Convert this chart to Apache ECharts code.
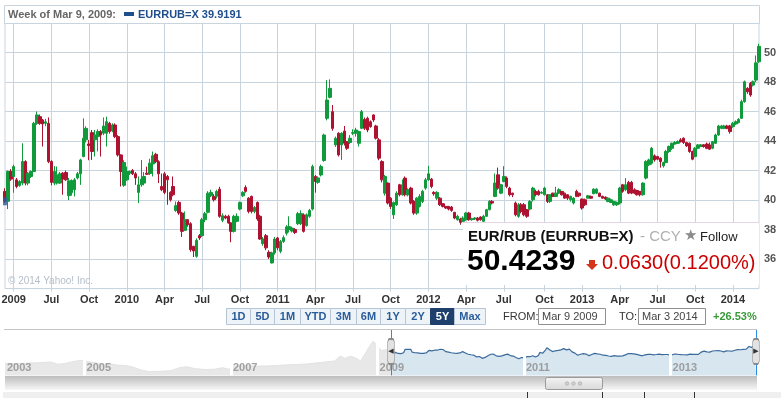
<!DOCTYPE html>
<html>
<head>
<meta charset="utf-8">
<title>EUR/RUB weekly</title>
<script src="https://cdn.jsdelivr.net/npm/echarts@6/dist/echarts.min.js"></script>
<style>
  html, body { margin: 0; padding: 0; background: #fff; }
  #chart { width: 781px; height: 398px; }
</style>
</head>
<body>
<div id="chart"></div>
<script>
// weekly candles from the week of Mar 9 2009 to Mar 3 2014: [open, close, low, high]
var ohlc = [
  [40.58,39.92,39.80,40.80],[39.92,41.94,39.39,42.00],[41.94,41.42,41.30,42.10],[41.60,42.27,40.50,42.40],[41.37,40.92,40.80,41.50],[40.99,41.26,40.90,41.35],
  [41.15,42.61,41.00,43.85],[42.61,41.15,41.00,42.70],[41.15,41.82,41.00,41.90],[41.60,41.94,41.50,42.00],[41.94,45.20,41.90,45.30],[45.20,45.77,45.10,46.00],
  [45.65,45.20,45.10,45.80],[45.43,45.16,43.63,45.50],[45.20,45.30,45.00,45.50],[45.20,42.61,42.50,45.60],[42.61,41.20,41.00,42.70],[41.15,41.94,41.00,42.30],
  [41.15,41.70,41.05,42.27],[41.15,41.78,41.10,41.90],[41.82,41.42,40.36,41.90],[41.87,41.37,41.30,42.00],[40.30,41.30,40.00,41.50],[40.50,41.33,40.30,41.40],
  [40.70,41.37,40.25,41.50],[41.50,41.78,41.40,41.90],[41.78,42.72,41.03,42.80],[42.95,44.19,42.90,45.54],[44.08,44.86,43.90,45.00],[43.80,43.70,42.70,44.08],
  [44.57,43.29,42.72,44.75],[44.08,44.41,42.95,44.75],[44.30,44.64,43.30,44.80],[44.64,44.41,42.95,44.75],[44.53,45.02,44.40,45.60],[44.53,45.31,43.63,45.65],
  [45.20,44.64,44.50,45.30],[44.68,45.09,44.60,45.20],[45.09,44.30,44.20,45.20],[44.30,43.06,42.95,44.40],[43.06,41.94,40.92,43.10],[41.00,42.54,40.90,42.70],
  [41.37,41.94,41.30,42.27],[41.82,41.94,41.70,42.00],[42.00,41.78,41.70,42.10],[41.78,41.50,41.03,41.90],[40.52,41.03,39.80,41.60],[41.03,41.42,40.90,42.72],
  [41.15,41.60,41.00,41.90],[41.82,41.75,41.70,42.27],[41.80,42.50,41.70,42.80],[42.45,43.00,41.60,43.29],[43.10,42.60,42.50,43.20],[42.60,41.78,41.15,42.70],
  [40.92,40.70,40.60,41.80],[41.78,40.52,40.40,41.90],[41.60,41.37,39.68,41.70],[40.52,40.02,39.90,40.60],[40.92,40.36,40.25,41.60],[39.30,39.62,39.20,39.90],
  [39.84,39.12,39.00,39.95],[39.12,37.88,37.50,39.20],[37.95,38.67,37.90,39.23],[38.67,38.33,38.20,38.70],[38.40,36.64,36.50,38.50],[36.87,36.55,36.14,36.90],
  [36.19,37.27,36.10,37.40],[37.59,37.43,37.30,37.70],[37.59,38.67,37.50,38.80],[38.67,39.08,38.50,39.20],[39.17,40.47,39.10,40.60],[40.29,40.52,40.20,40.70],
  [40.25,40.02,39.90,40.40],[40.25,40.59,40.10,40.70],[40.74,38.90,38.80,40.90],[38.63,38.94,38.50,39.10],[38.90,38.78,38.70,39.00],[38.90,38.45,38.40,39.00],
  [38.45,37.88,37.14,38.50],[37.88,38.90,37.80,39.00],[38.56,38.90,38.50,39.10],[39.39,39.84,39.30,39.90],[40.29,40.52,40.20,40.60],[40.86,40.59,40.50,41.00],
  [40.13,39.23,39.10,40.20],[40.25,39.23,39.10,40.30],[39.23,39.50,39.10,39.60],[39.84,38.72,38.60,39.90],[38.90,37.36,37.30,39.00],[37.05,37.36,36.90,37.50],
  [37.59,36.76,36.60,37.70],[36.46,36.14,36.00,36.60],[35.74,36.42,35.70,36.50],[36.42,37.36,36.30,37.50],[37.43,36.76,36.60,37.50],[36.53,37.20,36.40,37.30],
  [37.20,37.45,37.10,37.60],[37.75,38.18,37.60,38.30],[38.00,38.20,37.80,38.90],[37.90,38.10,37.80,38.20],[38.00,37.80,37.70,38.10],[38.40,39.08,38.30,39.20],
  [38.40,39.08,38.30,39.30],[39.00,37.88,37.80,39.10],[38.27,39.00,38.20,39.10],[38.90,39.30,38.80,39.40],[39.39,42.27,39.30,42.40],[41.60,41.26,40.50,41.70],
  [41.20,41.50,41.10,41.60],[41.70,42.27,41.60,42.40],[42.68,44.41,42.60,44.50],[45.54,46.78,45.40,48.13],[46.96,47.57,46.90,48.18],[45.99,44.86,44.70,46.44],
  [43.74,44.19,43.60,44.30],[44.53,43.06,42.95,44.60],[43.74,44.53,42.72,44.60],[44.68,43.85,43.70,45.02],[43.96,43.51,43.40,44.00],[43.90,44.19,43.80,44.40],
  [44.53,44.57,44.40,44.80],[44.53,44.75,44.30,44.90],[43.85,44.64,43.63,44.70],[44.86,45.99,44.80,46.10],[45.47,44.86,44.75,45.60],[45.54,44.75,44.60,45.65],
  [45.31,44.98,44.90,45.40],[45.77,45.43,45.30,45.80],[45.02,44.19,44.10,45.10],[44.08,42.84,42.70,44.20],[42.61,41.37,41.20,42.70],[40.47,41.60,40.30,41.70],
  [41.15,39.80,39.70,41.20],[40.13,39.57,39.40,40.20],[39.00,39.84,38.72,39.90],[39.68,40.47,39.60,40.60],[41.04,40.36,40.25,41.10],[40.36,41.04,40.30,41.40],
  [41.49,40.36,40.25,41.60],[40.36,40.70,40.25,40.80],[40.81,39.80,39.70,40.90],[39.91,39.12,39.00,40.00],[39.12,40.13,39.00,40.20],[39.57,40.25,39.50,40.40],
  [39.91,40.59,39.80,40.70],[40.81,41.37,40.70,41.50],[41.37,41.78,41.30,42.32],[41.42,40.92,40.80,41.50],[40.52,40.43,40.30,40.60],[40.13,40.52,40.00,40.60],
  [40.13,39.68,39.60,40.20],[39.75,39.57,39.50,39.80],[39.57,39.46,39.40,39.60],[39.57,39.39,39.30,39.60],[39.53,39.30,39.20,39.60],[39.17,38.78,38.70,39.20],
  [38.67,38.90,38.60,39.00],[38.72,38.49,38.33,38.80],[38.56,38.78,38.50,38.90],[38.67,39.12,38.60,39.20],[39.12,38.67,38.60,39.20],[38.67,38.74,38.60,38.80],
  [38.72,38.78,38.65,38.85],[38.78,38.63,38.55,38.85],[38.85,38.67,38.60,38.90],[38.56,38.90,38.50,39.00],[38.90,39.35,38.85,39.40],[39.35,39.91,39.30,40.00],
  [39.91,39.80,39.70,40.00],[40.25,41.15,40.20,41.80],[41.71,40.81,40.70,42.20],[40.47,41.04,40.40,41.10],[41.26,41.60,41.20,42.30],[41.49,40.92,40.80,41.60],
  [40.81,40.36,40.25,40.90],[40.47,40.36,40.20,40.50],[39.80,39.00,38.90,39.90],[38.90,39.68,38.80,39.80],[39.68,39.23,39.10,39.80],[39.68,39.00,38.90,39.80],
  [39.35,38.90,38.80,39.40],[39.39,39.91,39.30,40.00],[40.02,40.81,39.90,40.90],[40.59,40.36,40.25,40.70],[40.59,40.36,40.30,40.70],[40.47,40.52,40.40,40.60],
  [40.36,40.81,40.30,40.90],[40.36,39.91,39.80,40.40],[39.91,40.36,39.80,40.40],[40.47,40.25,40.20,40.50],[40.25,40.47,40.20,40.90],[40.47,40.70,40.40,40.80],
  [40.59,40.36,40.30,40.60],[40.47,40.13,40.10,40.50],[40.36,40.13,40.00,40.40],[40.02,40.25,39.90,40.30],[39.80,40.13,39.70,40.20],[40.59,40.25,40.20,40.70],
  [40.47,40.29,40.20,40.50],[40.07,39.46,39.35,40.10],[40.02,39.68,39.60,40.10],[40.13,40.29,40.10,40.35],[40.25,40.13,40.10,40.30],[40.43,40.74,40.40,40.80],
  [40.47,40.74,40.40,40.80],[40.47,40.25,40.20,40.50],[40.25,40.13,40.10,40.30],[40.20,40.07,40.00,40.25],[39.91,40.13,39.85,40.20],[39.84,40.02,39.80,40.10],
  [39.68,39.91,39.60,39.95],[39.68,39.84,39.60,39.90],[39.80,40.81,39.70,40.90],[41.04,40.59,40.50,41.10],[40.70,41.04,40.60,41.49],[41.20,40.47,40.40,41.30],
  [41.20,40.47,40.40,41.30],[40.70,40.47,40.40,40.80],[40.65,40.36,40.30,40.70],[40.59,40.36,40.25,40.60],[40.36,41.15,40.30,41.20],[41.49,42.61,41.40,42.70],
  [42.39,42.72,42.30,42.80],[42.50,43.51,42.40,43.60],[43.00,42.72,42.60,43.10],[42.95,42.77,42.70,43.00],[42.84,42.61,42.20,42.90],[42.32,42.54,42.20,42.60],
  [42.54,43.29,42.50,43.40],[43.29,43.63,43.20,43.70],[43.51,43.85,43.40,43.90],[43.80,43.90,43.75,44.00],[43.85,43.96,43.80,44.05],[44.08,43.96,43.90,44.20],
  [44.19,43.90,43.80,44.25],[43.90,43.67,43.60,43.95],[43.85,43.29,43.20,43.90],[43.29,42.77,42.70,43.35],[42.95,43.51,42.90,43.60],[43.51,43.74,43.45,43.80],
  [43.63,43.74,43.60,43.80],[43.74,43.63,43.55,43.80],[43.80,43.51,43.45,43.90],[43.74,43.45,43.40,43.90],[43.51,43.96,43.45,44.00],[43.85,44.41,43.80,44.50],
  [44.41,45.02,44.35,45.10],[44.86,45.02,44.80,45.10],[44.86,45.02,44.80,45.10],[45.02,44.86,44.80,45.10],[45.02,44.64,44.50,45.10],[44.98,45.20,44.90,45.30],
  [45.16,45.31,45.10,45.40],[45.25,45.47,45.20,45.55],[45.54,46.67,45.50,46.80],[46.67,48.02,46.60,48.10],[47.57,47.34,47.20,47.65],[47.90,47.12,47.00,48.00],
  [47.79,48.02,47.70,48.10],[48.13,49.30,48.00,49.80],[49.37,50.42,49.30,50.60]
];
var firstWeek = '2009-03-09';
var firstClose = 39.9191;

// one label per quarter, starting with the week of Apr 1 2009
var tickLabels = ['2009', 'Jul', 'Oct', '2010', 'Apr', 'Jul', 'Oct', '2011', 'Apr', 'Jul', 'Oct',
  '2012', 'Apr', 'Jul', 'Oct', '2013', 'Apr', 'Jul', 'Oct', '2014'];

// navigator history before the selected range (own scale of the navigator)
var navHistDates = ['2003-12-01', '2004-02-01', '2004-04-01', '2004-05-15', '2004-07-15', '2004-08-20', '2004-09-25',
  '2004-11-05', '2004-12-15', '2005-01-15', '2005-02-20', '2005-04-05', '2005-05-10', '2005-06-12', '2005-07-25',
  '2005-09-01', '2005-10-05', '2005-11-15', '2006-01-15', '2006-03-05', '2006-04-20', '2006-05-25', '2006-07-05',
  '2006-08-25', '2006-10-15', '2006-11-20', '2006-12-20', '2007-01-20', '2007-03-15', '2007-05-01', '2007-06-20',
  '2007-08-10', '2007-09-25', '2007-11-15', '2008-01-08', '2008-02-25', '2008-04-15', '2008-06-01', '2008-06-28',
  '2008-07-22', '2008-08-18', '2008-09-12', '2008-10-08', '2008-10-28', '2008-11-18', '2008-12-10', '2008-12-24',
  '2009-01-20', '2009-02-15', '2009-03-09'];
var navHistValues = [31.7, 31.5, 32.0, 32.3, 33.0, 30.8, 31.5,
  33.5, 34.6, 33.5, 32.5, 30.8, 31.2, 30.0, 29.6,
  28.0, 25.5, 23.8, 24.0, 24.5, 27.5, 28.4, 26.5,
  25.7, 26.0, 27.5, 26.0, 29.0, 29.6, 29.0, 29.1,
  29.5, 30.1, 30.5, 31.0, 32.0, 33.0, 34.0, 38.8,
  36.5, 38.5, 37.0, 34.0, 40.0, 47.0, 53.3, 50.0,
  44.1, 45.0, 40.0];
var navYearDates = ['2003-12-01', '2005-01-01', '2007-01-01', '2009-01-01', '2011-01-01', '2013-01-01'];
var navYearLabels = ['2003', '2005', '2007', '2009', '2011', '2013'];
var navBreaks = ['2005-01-01', '2007-01-01', '2009-01-01', '2011-01-01', '2013-01-01'];
var rangeStart = '2009-03-09';
var rangeEnd = '2014-03-03';

var rangeButtons = ['1D', '5D', '1M', 'YTD', '3M', '6M', '1Y', '2Y', '5Y', 'Max'];
var buttonEdges = [226, 250, 274, 300, 330, 356, 380, 405, 430, 454, 485];
var activeButton = 8;

var FONT = '"Liberation Sans", Arial, sans-serif';
var GRID = '#c9d5de';

var t0 = Date.parse(firstWeek + 'T00:00:00Z');
var weeks = ohlc.map(function (r, i) { return new Date(t0 + i * 7 * 864e5); });
var categories = weeks.map(function (d) { return d.toISOString().slice(0, 10); });

// the week that holds the 1st of Jan/Apr/Jul/Oct gets a grid line and a label
var labelAt = {};
var q = 0;
weeks.forEach(function (d, i) {
    for (var k = 0; k < 7; k++) {
        var dd = new Date(d.getTime() + k * 864e5);
        if (dd.getUTCDate() === 1 && dd.getUTCMonth() % 3 === 0) {
            labelAt[i] = tickLabels[q++];
            break;
        }
    }
});
function isQuarter(i) { return labelAt[i] !== undefined; }
function ts(s) { return Date.parse(s + 'T00:00:00'); }

var graphics = [];

// header strip above the plot
graphics.push({ type: 'rect', z: 1, shape: { x: 4.5, y: 5.5, width: 755, height: 18 }, style: { fill: '#fff', stroke: GRID } });
graphics.push({ type: 'text', z: 2, x: 8, y: 15, style: { text: 'Week of Mar 9, 2009:', font: 'bold 11px ' + FONT, fill: '#666', verticalAlign: 'middle' } });
graphics.push({ type: 'rect', z: 2, shape: { x: 124, y: 12, width: 10, height: 4 }, style: { fill: '#1f4e8c' } });
graphics.push({ type: 'text', z: 2, x: 138, y: 15, style: { text: 'EURRUB=X ' + firstClose.toFixed(4), font: 'bold 11px ' + FONT, fill: '#1f4e8c', verticalAlign: 'middle' } });

graphics.push({ type: 'text', z: 3, x: 8, y: 281, style: { text: '\u00a9 2014 Yahoo! Inc.', font: '10px ' + FONT, fill: '#b4bec8', verticalAlign: 'middle' } });

// quote box
graphics.push({ type: 'rect', z: 100, shape: { x: 463, y: 222, width: 296, height: 63 }, style: { fill: '#fff' } });
graphics.push({ type: 'line', z: 101, shape: { x1: 463, y1: 222.5, x2: 759, y2: 222.5 }, style: { stroke: '#e4d4e4' } });
graphics.push({ type: 'text', z: 101, x: 468, y: 237, style: { text: 'EUR/RUB (EURRUB=X)', font: 'bold 15px ' + FONT, fill: '#111', verticalAlign: 'middle' } });
graphics.push({ type: 'text', z: 101, x: 640, y: 237, style: { text: '- CCY', font: '15px ' + FONT, fill: '#b0b0b0', verticalAlign: 'middle' } });
graphics.push({ type: 'text', z: 101, x: 684, y: 236, style: { text: '\u2605', font: '15px "DejaVu Sans"', fill: '#8a8a8a', verticalAlign: 'middle' } });
graphics.push({ type: 'text', z: 101, x: 700, y: 237, style: { text: 'Follow', font: '13px ' + FONT, fill: '#222', verticalAlign: 'middle' } });
graphics.push({ type: 'text', z: 101, x: 467, y: 262, style: { text: '50.4239', font: 'bold 30px ' + FONT, fill: '#000', verticalAlign: 'middle' } });
graphics.push({ type: 'polygon', z: 101, shape: { points: [[589, 260], [595, 260], [595, 264], [598, 264], [592, 270], [586, 264], [589, 264]] }, style: { fill: '#d4361c' } });
graphics.push({ type: 'text', z: 101, x: 602, y: 263, style: { text: '0.0630(0.1200%)', font: '20px ' + FONT, fill: '#cc0000', verticalAlign: 'middle' } });

// range buttons
rangeButtons.forEach(function (b, i) {
    var x0 = buttonEdges[i], x1 = buttonEdges[i + 1];
    var on = i === activeButton;
    graphics.push({ type: 'rect', z: 5, shape: { x: x0 + 0.5, y: 308.5, width: x1 - x0, height: 16 },
        style: { fill: on ? '#1f3f6d' : '#eef3f8', stroke: on ? '#1f3f6d' : '#b6c5d5' } });
    graphics.push({ type: 'text', z: 6, x: (x0 + x1) / 2 + 0.5, y: 317, style: { text: b, font: 'bold 11px ' + FONT,
        fill: on ? '#fff' : '#2a5c9a', align: 'center', verticalAlign: 'middle' } });
});

graphics.push({ type: 'text', z: 5, x: 503, y: 317, style: { text: 'FROM:', font: '11px ' + FONT, fill: '#333', verticalAlign: 'middle' } });
graphics.push({ type: 'rect', z: 5, shape: { x: 538.5, y: 308.5, width: 67, height: 16 }, style: { fill: '#fff', stroke: '#8f8f8f' } });
graphics.push({ type: 'text', z: 6, x: 542, y: 317, style: { text: 'Mar 9 2009', font: '11px ' + FONT, fill: '#444', verticalAlign: 'middle' } });
graphics.push({ type: 'text', z: 5, x: 619, y: 317, style: { text: 'TO:', font: '11px ' + FONT, fill: '#333', verticalAlign: 'middle' } });
graphics.push({ type: 'rect', z: 5, shape: { x: 638.5, y: 308.5, width: 67, height: 16 }, style: { fill: '#fff', stroke: '#8f8f8f' } });
graphics.push({ type: 'text', z: 6, x: 642, y: 317, style: { text: 'Mar 3 2014', font: '11px ' + FONT, fill: '#444', verticalAlign: 'middle' } });
graphics.push({ type: 'text', z: 5, x: 713, y: 317, style: { text: '+26.53%', font: 'bold 11px ' + FONT, fill: '#3a9a3a', verticalAlign: 'middle' } });

// navigator frame, scrollbar and the strip below
graphics.push({ type: 'line', z: 5, shape: { x1: 4, y1: 329.5, x2: 757, y2: 329.5 }, style: { stroke: '#c6c6c6' } });
graphics.push({ type: 'rect', z: 5, shape: { x: 5, y: 376, width: 752, height: 14 },
    style: { fill: { type: 'linear', x: 0, y: 0, x2: 0, y2: 1, colorStops: [{ offset: 0, color: '#bdbdbd' }, { offset: 1, color: '#f7f7f7' }] } } });
graphics.push({ type: 'rect', z: 6, shape: { x: 545.5, y: 377.5, width: 57, height: 12, r: 2 },
    style: { fill: { type: 'linear', x: 0, y: 0, x2: 0, y2: 1, colorStops: [{ offset: 0, color: '#f4f4f4' }, { offset: 1, color: '#d9d9d9' }] }, stroke: '#9a9a9a' } });
[567, 573.5, 580].forEach(function (cx) {
    graphics.push({ type: 'circle', z: 7, shape: { cx: cx, cy: 383.5, r: 1.8 }, style: { fill: '#cfcfcf', stroke: '#a8a8a8', lineWidth: 0.6 } });
});
graphics.push({ type: 'rect', z: 5, shape: { x: 3, y: 392, width: 778, height: 6 }, style: { fill: '#efefef' } });
[527, 602, 644, 694].forEach(function (x) {
    graphics.push({ type: 'line', z: 6, shape: { x1: x + 0.5, y1: 392, x2: x + 0.5, y2: 398 }, style: { stroke: '#333' } });
});

var option = {
    animation: false,
    textStyle: { fontFamily: FONT },
    grid: [
        { left: 5, right: 22, top: 23, bottom: 109.4, show: true, borderColor: GRID, borderWidth: 1, outerBoundsMode: 'none' },
        { left: 5, right: 24, top: 330, bottom: 22.6, outerBoundsMode: 'none' }
    ],
    xAxis: [
        {
            type: 'category', gridIndex: 0, data: categories, boundaryGap: false,
            axisLine: { show: false },
            axisTick: { show: true, interval: isQuarter, length: 3, lineStyle: { color: GRID } },
            splitLine: { show: true, interval: isQuarter, lineStyle: { color: GRID } },
            axisLabel: {
                interval: isQuarter, margin: 6, color: '#333', fontWeight: 'bold', fontSize: 11, fontFamily: FONT,
                formatter: function (v, i) { return labelAt[i] || ''; }
            }
        },
        { type: 'time', gridIndex: 1, min: ts('2003-12-01'), max: ts('2014-03-08'), show: false }
    ],
    yAxis: [
        {
            type: 'value', gridIndex: 0, position: 'right', min: 34, max: 52, interval: 2,
            axisLine: { show: false }, axisTick: { show: false },
            splitLine: { lineStyle: { color: GRID } },
            axisLabel: {
                margin: 5, color: '#555', fontWeight: 'bold', fontSize: 11, fontFamily: FONT,
                formatter: function (v) { return (v > 34 && v < 52) ? String(v) : ''; }
            }
        },
        { type: 'value', gridIndex: 1, min: 20, max: 64, show: false }
    ],
    series: [
        {
            type: 'candlestick', xAxisIndex: 0, yAxisIndex: 0, data: ohlc, barWidth: 3,
            itemStyle: { color: '#109a3b', color0: '#ad1230', borderColor: '#109a3b', borderColor0: '#ad1230', borderWidth: 1 }
        },
        {
            type: 'scatter', xAxisIndex: 0, yAxisIndex: 0, z: 5, symbol: 'rect', symbolSize: [4, 8],
            itemStyle: { color: '#2c5d9b' }, data: [[categories[0], firstClose]]
        },
        {
            type: 'line', xAxisIndex: 1, yAxisIndex: 1, symbol: 'none', z: 2,
            lineStyle: { color: '#e2e2e2', width: 1 }, areaStyle: { color: '#e8e8e8', opacity: 1 },
            data: navHistDates.map(function (d, i) { return [ts(d), navHistValues[i]]; })
        },
        {
            type: 'line', xAxisIndex: 1, yAxisIndex: 1, symbol: 'none', z: 3,
            lineStyle: { color: '#3b6b9c', width: 1.2 }, areaStyle: { color: '#d8e6f0', opacity: 1 },
            data: categories.map(function (d, i) { return [ts(d), ohlc[i][1]]; }),
            markLine: {
                silent: true, symbol: ['none', 'none'], label: { show: false },
                data: navBreaks.map(function (d) {
                    return { xAxis: ts(d), lineStyle: { color: '#fff', width: 3, type: 'solid' } };
                }).concat([
                    { xAxis: ts(rangeStart), lineStyle: { color: '#2d8be0', width: 1, type: 'solid' } },
                    { xAxis: ts(rangeEnd), lineStyle: { color: '#2d8be0', width: 1, type: 'solid' } }
                ])
            },
            markPoint: {
                silent: true, symbol: 'roundRect', symbolSize: [7, 25],
                itemStyle: { color: '#e2e2e2', borderColor: '#8a8a8a', borderWidth: 1 },
                label: { show: true, position: 'inside', color: '#333', fontSize: 7, fontFamily: '"DejaVu Sans"' },
                data: [
                    { coord: [ts(rangeStart), 43.2], label: { formatter: '\u25c0' } },
                    { coord: [ts(rangeEnd), 43.2], label: { formatter: '\u25b6' } }
                ]
            }
        },
        {
            type: 'scatter', xAxisIndex: 1, yAxisIndex: 1, z: 6, symbolSize: 0, silent: true,
            data: navYearDates.map(function (d) { return [ts(d), 27.5]; }),
            label: {
                show: true, position: 'right', distance: 2, color: '#8c8c8c', fontWeight: 'bold', fontSize: 11, fontFamily: FONT,
                formatter: function (p) { return navYearLabels[p.dataIndex]; }
            }
        }
    ],
    graphic: graphics
};

var chart = echarts.init(document.getElementById('chart'));
chart.setOption(option);
</script>
</body>
</html>
